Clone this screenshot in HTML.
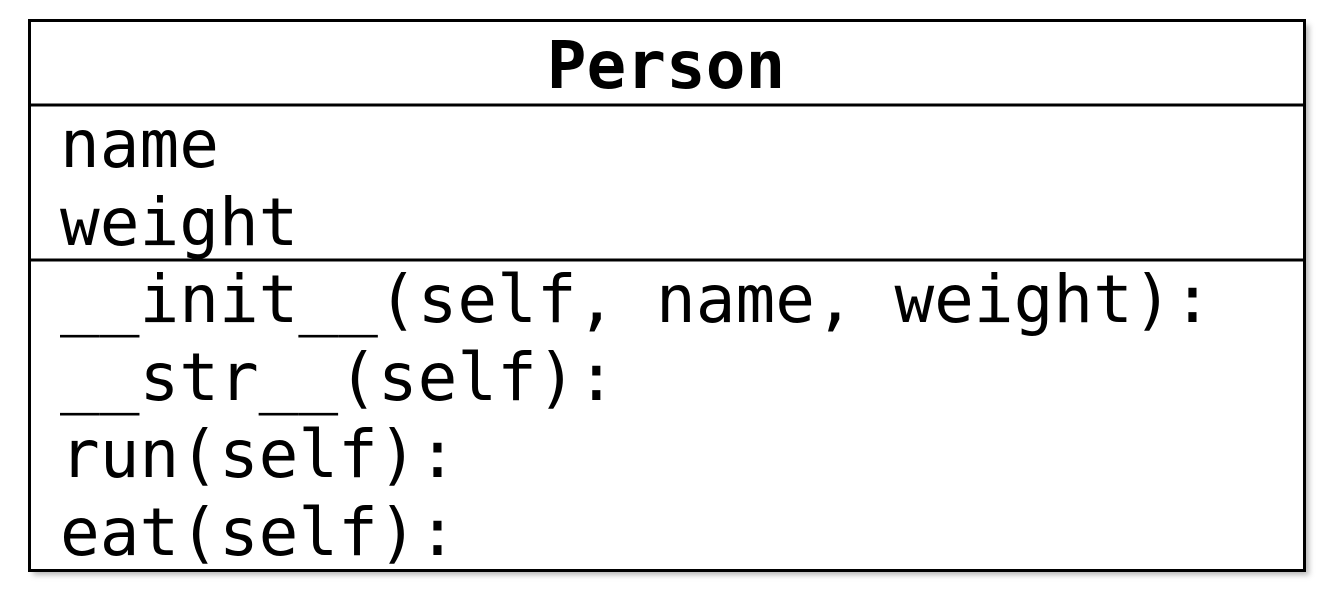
<!DOCTYPE html>
<html><head><style>
html,body{margin:0;padding:0;background:#fff;width:1330px;height:600px;overflow:hidden}
</style></head><body>
<svg width="1330" height="600" xmlns="http://www.w3.org/2000/svg">
<defs><filter id="s" x="-5%" y="-5%" width="110%" height="115%"><feGaussianBlur stdDeviation="3"/></filter></defs>
<rect x="33" y="25" width="1276" height="550" fill="#999" filter="url(#s)" opacity="0.7"/>
<rect x="29.5" y="20.5" width="1275" height="550" fill="#fff" stroke="#000" stroke-width="3"/>
<line x1="29" y1="105" x2="1305" y2="105" stroke="#000" stroke-width="3"/>
<line x1="29" y1="260" x2="1305" y2="260" stroke="#000" stroke-width="3"/>
<g font-family="'DejaVu Sans Mono','Liberation Mono',monospace" font-size="66" fill="#000">
<text x="666" y="88" text-anchor="middle" font-weight="bold">Person</text>
<text x="60" y="167">name</text>
<text x="60" y="245">weight</text>
<text x="60" y="322">__init__(self, name, weight):</text>
<text x="60" y="400">__str__(self):</text>
<text x="60" y="477">run(self):</text>
<text x="60" y="555">eat(self):</text>
</g>
</svg>
</body></html>
